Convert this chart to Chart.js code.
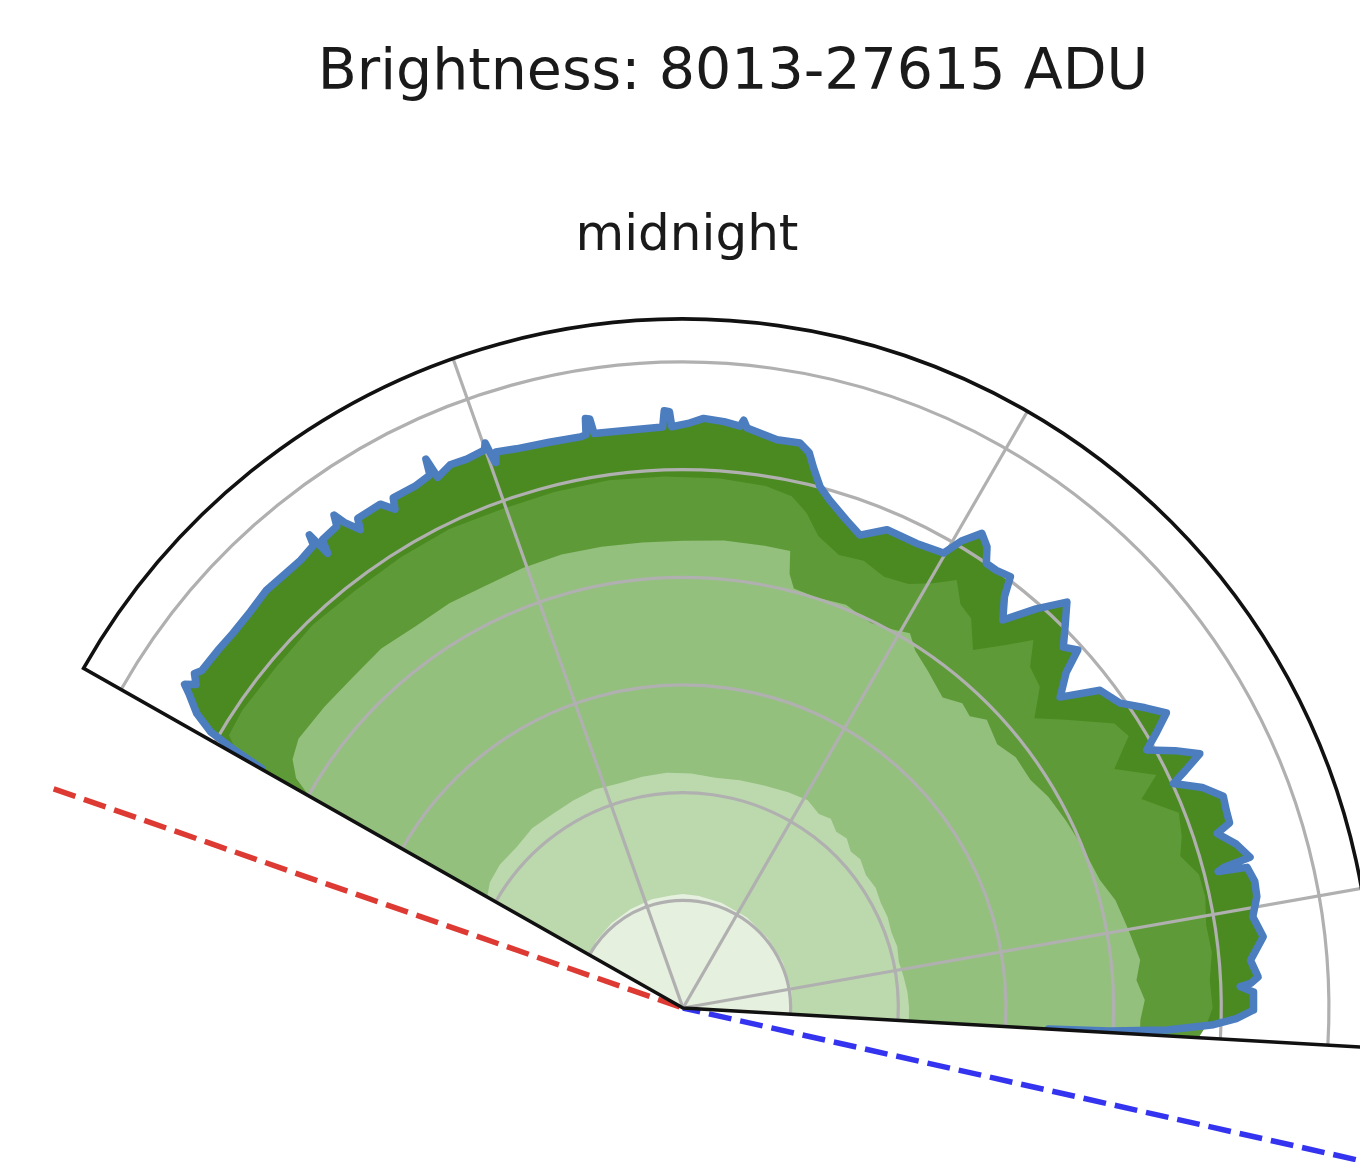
<!DOCTYPE html>
<html>
<head>
<meta charset="utf-8">
<script src="https://cdn.jsdelivr.net/npm/chart.js@4.4.1/dist/chart.umd.min.js"></script>
<style>
  html, body { margin: 0; padding: 0; background: #ffffff; overflow: hidden; width: 1360px; height: 1162px; }
  #wrap { position: relative; width: 1360px; height: 1162px; }
  #c { position: absolute; left: 0; top: 0; }
  .txt { position: absolute; font-family: 'DejaVu Sans', sans-serif; color: #1a1a1a; white-space: nowrap; line-height: 1; transform: translateX(-50%); }
</style>
</head>
<body>
<div id="wrap">
  <canvas id="c" width="1360" height="1162"></canvas>
  <div class="txt" style="left:733px; top:41px; font-size:57px;">Brightness: 8013-27615 ADU</div>
  <div class="txt" style="left:687px; top:208px; font-size:50px;">midnight</div>
</div>
<script>
// ---- Angular extent of the field of view (degrees clockwise from top) and radial axis ----
const WEDGE_THETA = [-60.45, 93.3];
const R_MAX = 64;
const RING_VALUES = [10, 20, 30, 40, 50, 60];
const SPOKE_THETA = [-19.5, 30, 80];

// ---- Outer envelope (blue outline, darkest band) ----
const OUTLINE_THETA = [-60.4, -60.1, -59.7, -58.8, -57.6, -57.0, -56.4, -55.6, -55.0, -52.5, -50.2, -47.5, -44.9, -42.5, -40.5,
  -38.6, -38.3, -38.0, -37.6, -35.7, -35.3, -34.9, -34.0, -33.6, -31.0, -30.0, -29.6, -27.1, -25.4, -25.1, -24.8, -23.2,
  -21.5, -19.6, -19.3, -19.0, -18.6, -16.6, -13.3, -10.2, -9.6, -9.4, -9.0, -8.8, -4.9, -2.0, -1.8, -1.3, -1.1, 0.5, 2.0,
  4.0, 5.6, 5.9, 6.3, 8.0, 9.4, 11.7, 12.8, 13.6, 14.7, 16.1, 18.5, 20.5, 23.1, 26.7, 29.8, 30.8, 32.2, 33.4, 34.3, 35.6,
  37.2, 38.0, 39.5, 41.5, 43.4, 44.9, 46.5, 47.8, 48.8, 50.5, 52.7, 55.1, 57.0, 58.6, 59.8, 60.9, 62.4, 63.8, 64.7, 65.4,
  67.0, 68.6, 70.0, 71.3, 71.9, 73.5, 75.1, 75.4, 75.7, 76.0, 77.5, 79.0, 80.9, 83.0, 85.2, 86.9, 87.5, 87.8, 88.4, 88.9,
  90.2, 91.1, 91.8, 92.6, 93.1, 93.3];
const OUTLINE_R = [45.0, 48.0, 50.8, 52.8, 54.3, 55.2, 54.3, 55.0, 54.6, 54.5, 54.4, 54.5, 54.8, 54.7, 54.7,
  55.0, 56.0, 53.6, 54.9, 55.1, 56.1, 55.0, 53.6, 54.6, 54.6, 53.5, 54.5, 54.5, 54.8, 56.3, 54.3, 54.9,
  54.8, 55.0, 55.6, 53.6, 54.5, 54.2, 54.0, 53.9, 54.0, 55.5, 55.4, 54.0, 53.9, 54.0, 55.5, 55.4, 54.0, 54.3, 54.8,
  54.6, 54.3, 54.9, 54.2, 53.8, 53.5, 53.6, 52.9, 51.6, 50.1, 49.1, 47.8, 46.9, 48.3, 48.3, 48.7, 50.5, 52.1, 51.3, 50.0, 50.0,
  50.3, 48.5, 46.7, 49.5, 51.9, 50.3, 48.7, 49.5, 47.3, 45.4, 48.7, 49.5, 51.2, 52.6, 50.9, 49.3, 51.6, 53.5, 51.6, 50.1,
  52.4, 53.9, 53.7, 53.6, 52.2, 53.6, 54.5, 52.0, 51.3, 54.0, 54.4, 54.3, 53.6, 54.3, 52.9, 53.5, 52.8, 51.8, 53.0, 53.0,
  53.0, 51.4, 49.3, 45.0, 39.7, 34.0];

// ---- Inner bands ----
const MID_THETA = [-60.4, -59.0, -56.0, -50.0, -44.0, -38.0, -32.0, -26.0, -20.0, -14.0, -8.0, -2.0, 4.0, 9.0, 12.0, 14.0,
  16.0, 19.0, 22.0, 25.0, 28.0, 30.5, 32.6, 34.5, 36.5, 39.0, 41.5, 43.6, 45.5, 48.0, 50.5, 53.0, 56.6, 58.6, 61.0, 63.8,
  65.5, 68.5, 71.0, 73.0, 75.5, 78.0, 81.0, 84.0, 87.0, 90.0, 92.0, 93.25];
const MID_R = [47.5, 49.2, 49.4, 49.3, 49.5, 49.3, 49.4, 49.5, 49.3, 49.4, 49.5, 49.4, 49.3, 49.1, 48.6, 47.4,
  45.6, 44.5, 44.8, 44.2, 44.6, 45.8, 47.2, 45.5, 45.0, 42.8, 45.0, 47.2, 45.2, 44.6, 42.3, 44.5, 48.0, 48.5, 45.8, 49.0,
  46.8, 49.5, 49.0, 48.3, 49.5, 49.6, 49.2, 49.4, 49.0, 49.2, 48.6, 48.0];

const UPPER_THETA = [-60.4, -59.3, -57.5, -55.0, -50.0, -45.0, -40.0, -35.0, -30.0, -25.0, -20.0, -15.0, -10.0, -5.0, 0.0,
  5.0, 10.0, 13.2, 13.8, 14.8, 18.0, 22.0, 26.0, 29.0, 31.2, 33.0, 36.0, 39.9, 42.5, 44.5, 46.5, 50.0, 53.0, 56.7, 60.0,
  64.0, 68.0, 72.9, 76.0, 80.0, 84.0, 86.5, 89.0, 91.5, 93.25];
const UPPER_R = [40.0, 41.8, 43.0, 43.6, 43.5, 43.4, 43.6, 43.3, 43.4, 43.3, 43.5, 43.6, 43.5, 43.4, 43.4,
  43.6, 43.6, 43.6, 41.5, 40.3, 40.1, 40.4, 39.8, 40.2, 40.7, 39.6, 38.7, 37.6, 38.4, 38.0, 38.9, 38.1, 38.7, 38.6, 39.2,
  39.6, 40.0, 40.5, 41.4, 42.0, 42.7, 42.2, 42.9, 42.5, 42.5];

const LOWER_THETA = [-60.4, -57.0, -52.0, -46.0, -40.0, -34.0, -28.0, -22.0, -16.0, -10.0, -4.0, 2.0, 8.0, 14.0, 20.0,
  26.0, 31.0, 35.0, 38.0, 41.0, 44.0, 47.0, 50.0, 54.0, 58.0, 62.0, 66.0, 70.0, 74.0, 78.0, 82.0, 86.0, 90.0, 93.25];
const LOWER_R = [20.9, 21.4, 21.6, 21.5, 21.8, 21.7, 21.8, 21.9, 21.7, 21.8, 21.9, 21.8, 21.6, 21.8, 22.0,
  22.3, 22.5, 22.0, 22.3, 21.7, 21.9, 21.3, 21.5, 21.0, 21.1, 20.8, 20.8, 20.6, 20.7, 20.5, 20.7, 20.9, 21.0, 21.0];

const CORE_THETA = [-60.4, -52.0, -40.0, -28.0, -16.0, -6.0, 0.0, 8.0, 20.0, 35.0, 50.0, 65.0, 80.0, 93.25];
const CORE_R = [10.0, 10.2, 10.3, 10.4, 10.5, 10.5, 10.6, 10.5, 10.4, 10.3, 10.2, 10.2, 10.2, 10.1];

// ---- Reference directions (dashed rays) ----
const RAY_THETA = [-70.8, 102.7];
const RAY_LENGTH = [61.9, 70];

// ---- Layout of the polar frame on the page ----
const PAGE_W = 1360, PAGE_H = 1162;
const CENTER_X = 683, CENTER_Y = 1008;
const PX_PER_UNIT = 689 / R_MAX;

function toXY(theta, r) {
  return theta.map((t, i) => {
    const a = t * Math.PI / 180;
    return { x: r[i] * Math.sin(a), y: r[i] * Math.cos(a) };
  });
}
function band(theta, r) {
  return [{ x: 0, y: 0 }, ...toXY(theta, r), { x: 0, y: 0 }];
}
function ray(i) {
  return [...toXY([RAY_THETA[i]], [RAY_LENGTH[i]]), { x: 0, y: 0 }];
}

function canvasAngle(t) { return (t - 90) * Math.PI / 180; }

function frameGeometry(chart) {
  const xs = chart.scales.x, ys = chart.scales.y;
  const cx = xs.getPixelForValue(0), cy = ys.getPixelForValue(0);
  const dist = v => xs.getPixelForValue(v) - cx;
  return { cx, cy, dist, R: dist(R_MAX), a0: canvasAngle(WEDGE_THETA[0]), a1: canvasAngle(WEDGE_THETA[1]) };
}

function wedgePath(ctx, g) {
  ctx.beginPath();
  ctx.moveTo(g.cx, g.cy);
  ctx.lineTo(g.cx + Math.cos(g.a0) * g.R, g.cy + Math.sin(g.a0) * g.R);
  ctx.arc(g.cx, g.cy, g.R, g.a0, g.a1, false);
  ctx.closePath();
}

// Grid and frame of the polar sector, drawn with the chart's own x/y scales
const polarFrame = {
  id: 'polarFrame',
  beforeDatasetDraw(chart, args) {
    if (args.index !== 0) return;
    const ctx = chart.ctx;
    const g = frameGeometry(chart);
    ctx.save();
    ctx.strokeStyle = '#b0b0b0';
    ctx.lineWidth = 3.2;
    RING_VALUES.forEach(v => {
      ctx.beginPath();
      ctx.arc(g.cx, g.cy, g.dist(v), g.a0, g.a1, false);
      ctx.stroke();
    });
    SPOKE_THETA.forEach(t => {
      const a = canvasAngle(t);
      ctx.beginPath();
      ctx.moveTo(g.cx, g.cy);
      ctx.lineTo(g.cx + Math.cos(a) * g.R, g.cy + Math.sin(a) * g.R);
      ctx.stroke();
    });
    ctx.restore();
    // keep the outline inside the sector
    ctx.save();
    wedgePath(ctx, g);
    ctx.clip();
  },
  afterDatasetDraw(chart, args) {
    if (args.index === 0) chart.ctx.restore();
  },
  afterDatasetsDraw(chart) {
    const ctx = chart.ctx;
    const g = frameGeometry(chart);
    ctx.save();
    ctx.strokeStyle = '#111111';
    ctx.lineWidth = 3.6;
    ctx.lineJoin = 'miter';
    wedgePath(ctx, g);
    ctx.stroke();
    ctx.restore();
  }
};

const fillBand = (label, data, color) => ({
  label, data, backgroundColor: color, borderWidth: 0, fill: 'shape', pointRadius: 0
});

new Chart(document.getElementById('c'), {
  type: 'line',
  data: {
    datasets: [
      { label: 'envelope', data: toXY(OUTLINE_THETA, OUTLINE_R), borderColor: '#4b7dbf', borderWidth: 7.5,
        borderJoinStyle: 'round', borderCapStyle: 'round', fill: false, pointRadius: 0 },
      fillBand('core', band(CORE_THETA, CORE_R), '#e6f0df'),
      fillBand('lower', band(LOWER_THETA, LOWER_R), '#bcd9ad'),
      fillBand('upper', band(UPPER_THETA, UPPER_R), '#94c07e'),
      fillBand('mid', band(MID_THETA, MID_R), '#5e9b38'),
      fillBand('outer', band(OUTLINE_THETA, OUTLINE_R), '#4b8a21'),
      { label: 'ray-west', data: ray(0), borderColor: '#dd3a33', borderWidth: 5.5, borderDash: [23, 9],
        fill: false, pointRadius: 0 },
      { label: 'ray-east', data: ray(1), borderColor: '#3434f0', borderWidth: 5.5, borderDash: [23, 9],
        fill: false, pointRadius: 0 }
    ]
  },
  options: {
    responsive: false,
    animation: false,
    devicePixelRatio: 1,
    events: [],
    layout: { padding: 0 },
    elements: { line: { tension: 0 }, point: { radius: 0, hoverRadius: 0 } },
    plugins: { legend: { display: false }, tooltip: { enabled: false }, title: { display: false } },
    scales: {
      x: { type: 'linear', display: false, min: -CENTER_X / PX_PER_UNIT, max: (PAGE_W - CENTER_X) / PX_PER_UNIT },
      y: { type: 'linear', display: false, min: -(PAGE_H - CENTER_Y) / PX_PER_UNIT, max: CENTER_Y / PX_PER_UNIT }
    }
  },
  plugins: [polarFrame]
});
</script>
</body>
</html>
